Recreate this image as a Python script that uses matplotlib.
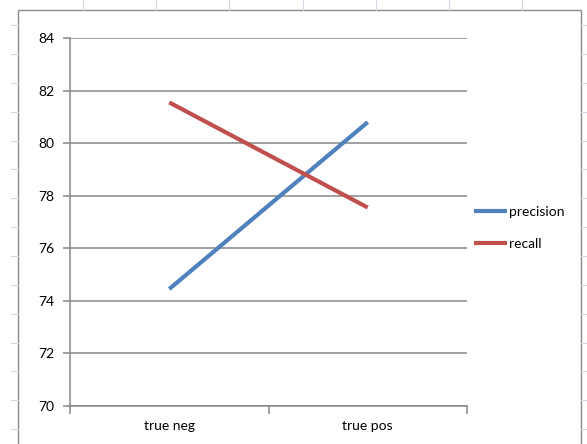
import matplotlib
matplotlib.use("Agg")
import matplotlib.pyplot as plt
from matplotlib.patches import Rectangle

# precision / recall per class
categories = ["true neg", "true pos"]
precision = [74.45, 80.8]
recall = [81.55, 77.55]
y_ticks = [70, 72, 74, 76, 78, 80, 82, 84]

W, H = 587, 444
plt.rcParams["font.family"] = ["Lato", "DejaVu Sans"]

fig = plt.figure(figsize=(W / 100, H / 100), dpi=100)

# worksheet cells behind the chart object
bg = fig.add_axes([0, 0, 1, 1])
bg.set_xlim(0, W)
bg.set_ylim(H, 0)
bg.axis("off")
cell = "#d0d7e5"
for x in [83, 156, 229, 302.5, 375.5, 448.5, 521.5]:
    bg.plot([x, x], [0, 10], color=cell, lw=0.8)
for y in [25, 54, 83, 112, 141, 169, 198, 227, 256, 285, 314, 343, 371, 400, 429]:
    bg.plot([11, 18], [y, y], color=cell, lw=0.8)
    bg.plot([581, 587], [y, y], color=cell, lw=0.8)
bg.add_patch(Rectangle((18, 10), 563, 440, facecolor="white",
                       edgecolor="#8c8c8c", lw=1.0))

# plot area
ax = fig.add_axes([70 / W, (H - 406) / H, (467 - 70) / W, (406 - 38) / H])
ax.set_facecolor("none")
xs = range(len(categories))
ax.plot(xs, precision, color="#4f81bd", lw=3.0, label="precision",
        solid_capstyle="butt")
ax.plot(xs, recall, color="#c0504d", lw=3.0, label="recall",
        solid_capstyle="butt")

ax.set_xlim(-0.5, len(categories) - 0.5)
ax.set_ylim(70, 84)
ax.set_yticks(y_ticks)
ax.set_yticklabels([str(t) for t in y_ticks])
ax.set_xticks([-0.5, 0.5, 1.5], minor=False)
ax.set_xticklabels([])
ax.set_xticks(list(xs), minor=True)
ax.set_xticklabels(categories, minor=True)

ax.grid(axis="y", color="#868686", lw=1.1)
ax.set_axisbelow(True)
for side in ["top", "right"]:
    ax.spines[side].set_visible(False)
for side in ["left", "bottom"]:
    ax.spines[side].set_color("#868686")
    ax.spines[side].set_linewidth(1.1)
ax.tick_params(axis="y", length=5, width=1.1, color="#868686",
               labelsize=10, pad=6, labelcolor="black")
ax.tick_params(axis="x", which="major", length=6, width=1.1, color="#868686")
ax.tick_params(axis="x", which="minor", length=0, labelsize=10, pad=10,
               labelcolor="black")

ax.legend(loc="center left", bbox_to_anchor=(474 / W, 1 - 228 / H),
          bbox_transform=fig.transFigure, frameon=False, fontsize=10,
          handlelength=2.4, handletextpad=0.15, labelspacing=1.45,
          borderpad=0, borderaxespad=0)

fig.savefig("out.png", dpi=100)
